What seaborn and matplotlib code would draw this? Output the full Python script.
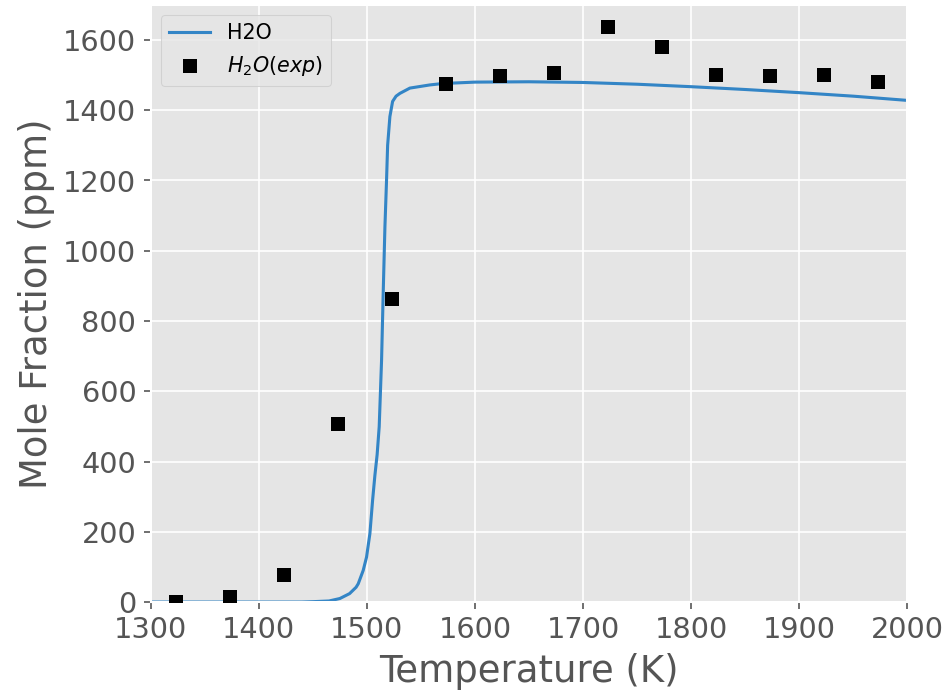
import matplotlib
matplotlib.use("Agg")
import matplotlib.pyplot as plt
import seaborn as sns
import pandas as pd

# Model prediction of H2O mole fraction vs temperature
model_temperature = [1300, 1400, 1440, 1450, 1465, 1475, 1484, 1490, 1492, 1496.6,
                     1499.7, 1502.8, 1505.3, 1507.4, 1509.5, 1511.4, 1513.6, 1515.1,
                     1516.7, 1518.2, 1519.2, 1521.3, 1523.8, 1527, 1530.6, 1539.8,
                     1558.3, 1570, 1600, 1650, 1700, 1750, 1800, 1850, 1900, 1950, 2000]
model_h2o = [0, 0, 0, 1, 3, 10, 24, 42, 52, 90,
             128, 195, 290, 360, 420, 499, 689, 879,
             1068, 1201, 1300, 1382, 1425, 1440, 1448, 1463,
             1472, 1476, 1480, 1481, 1479, 1474, 1467, 1459, 1450, 1440, 1428]

# Measured H2O mole fraction
exp_temperature = [1323, 1373, 1423, 1473, 1523, 1573, 1623, 1673, 1723, 1773,
                   1823, 1873, 1923, 1973]
exp_h2o = [0, 14, 78, 508, 864, 1475, 1497, 1507, 1636, 1579,
           1500, 1497, 1500, 1481]

x_ticks = [1300, 1400, 1500, 1600, 1700, 1800, 1900, 2000]
y_ticks = [0, 200, 400, 600, 800, 1000, 1200, 1400, 1600]

plt.style.use("ggplot")

model_df = pd.DataFrame({"T": model_temperature, "H2O": model_h2o})
exp_df = pd.DataFrame({"T": exp_temperature, "H2O": exp_h2o})

fig = plt.figure(figsize=(6.4, 4.699), dpi=148.125)
ax = fig.add_axes([0.159, 0.135, 0.798, 0.858])

sns.lineplot(data=model_df, x="T", y="H2O", ax=ax, color="#3385c6",
             linewidth=1.5, label="H2O", sort=False, estimator=None)
sns.scatterplot(data=exp_df, x="T", y="H2O", ax=ax, color="black", marker="s",
                s=50, linewidth=0, label="$H_2O(exp)$", zorder=3)

ax.set_xlim(1300, 2000)
ax.set_ylim(0, 1700)
ax.set_xticks(x_ticks)
ax.set_yticks(y_ticks)
ax.tick_params(labelsize=14)
ax.set_xlabel("Temperature (K)", fontsize=18, color="#555555")
ax.set_ylabel("Mole Fraction (ppm)", fontsize=18, color="#555555")
ax.legend(loc="upper left", fontsize=10)

fig.savefig("out.png", dpi=148.125)
